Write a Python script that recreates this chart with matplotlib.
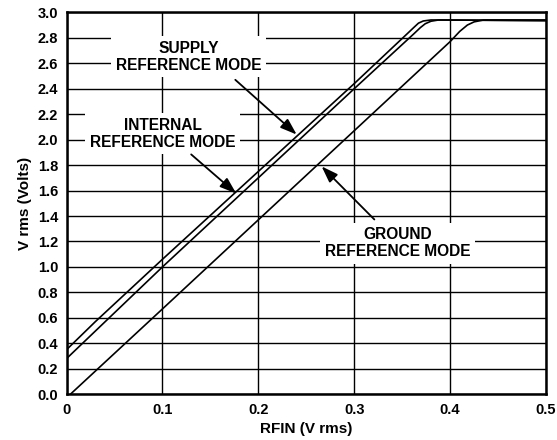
import matplotlib
matplotlib.use("Agg")
import matplotlib.pyplot as plt

plt.rcParams['font.family'] = ['Liberation Sans', 'DejaVu Sans']
plt.rcParams['font.weight'] = 'bold'

# Data
supply_x = [0.0, 0.03, 0.1, 0.2, 0.3, 0.355, 0.362, 0.367, 0.372, 0.38, 0.5]
supply_y = [0.35, 0.57, 1.06, 1.75, 2.44, 2.83, 2.88, 2.915, 2.932, 2.94, 2.935]

internal_x = [0.0, 0.1, 0.2, 0.3, 0.362, 0.369, 0.374, 0.38, 0.388, 0.5]
internal_y = [0.28, 1.0, 1.70, 2.40, 2.83, 2.88, 2.91, 2.93, 2.94, 2.935]

ground_x = [0.004, 0.1, 0.2, 0.3, 0.40, 0.41, 0.418, 0.425, 0.435, 0.5]
ground_y = [0.0, 0.67, 1.37, 2.07, 2.77, 2.85, 2.9, 2.925, 2.94, 2.94]

x_ticks = [0, 0.1, 0.2, 0.3, 0.4, 0.5]
x_ticklabels = ['0', '0.1', '0.2', '0.3', '0.4', '0.5']
y_ticks = [0.0, 0.2, 0.4, 0.6, 0.8, 1.0, 1.2, 1.4, 1.6, 1.8, 2.0, 2.2, 2.4, 2.6, 2.8, 3.0]
y_ticklabels = ['%.1f' % v for v in y_ticks]

fig = plt.figure(figsize=(5.57, 4.40), dpi=100)
ax = fig.add_axes([0.1194, 0.1039, 0.8609, 0.8681])

for xs, ys in [(supply_x, supply_y), (internal_x, internal_y), (ground_x, ground_y)]:
    ax.plot(xs, ys, color='black', lw=1.2, zorder=3, solid_capstyle='butt')

ax.set_xlim(0, 0.5)
ax.set_ylim(0, 3.0)
ax.set_xticks(x_ticks)
ax.set_xticklabels(x_ticklabels)
ax.set_yticks(y_ticks)
ax.set_yticklabels(y_ticklabels)
ax.grid(True, color='black', lw=1.0, zorder=1)
ax.set_axisbelow(True)
ax.tick_params(length=0, labelsize=10.5, pad=6)
for lbl in ax.get_xticklabels() + ax.get_yticklabels():
    lbl.set_fontweight('bold')
for s in ax.spines.values():
    s.set_linewidth(1.8)
    s.set_zorder(4)

ax.set_xlabel('RFIN (V rms)', fontsize=11, fontweight='bold', labelpad=4)
ax.set_ylabel('V rms (Volts)', fontsize=11, fontweight='bold', labelpad=4)

bbox = dict(boxstyle='square,pad=0.3', facecolor='white', edgecolor='none')
arrow = dict(arrowstyle='-|>,head_length=1.0,head_width=0.35', color='black', lw=1.3,
             shrinkA=0, shrinkB=0)

ax.text(0.127, 2.652, 'SUPPLY\nREFERENCE MODE', ha='center', va='center',
        fontsize=11.2, fontweight='bold', bbox=bbox, zorder=5, linespacing=1.15)
ax.annotate('', xy=(0.24, 2.04), xytext=(0.176, 2.47), arrowprops=arrow, zorder=5)

ax.text(0.1005, 2.045, 'INTERNAL\nREFERENCE MODE', ha='center', va='center',
        fontsize=11.2, fontweight='bold', bbox=bbox, zorder=5, linespacing=1.15)
ax.annotate('', xy=(0.177, 1.577), xytext=(0.130, 1.884), arrowprops=arrow, zorder=5)

ax.text(0.345, 1.187, 'GROUND\nREFERENCE MODE', ha='center', va='center',
        fontsize=11.2, fontweight='bold', bbox=bbox, zorder=5, linespacing=1.15)
ax.annotate('', xy=(0.266, 1.79), xytext=(0.321, 1.373), arrowprops=arrow, zorder=5)

fig.savefig('out.png', dpi=100)
